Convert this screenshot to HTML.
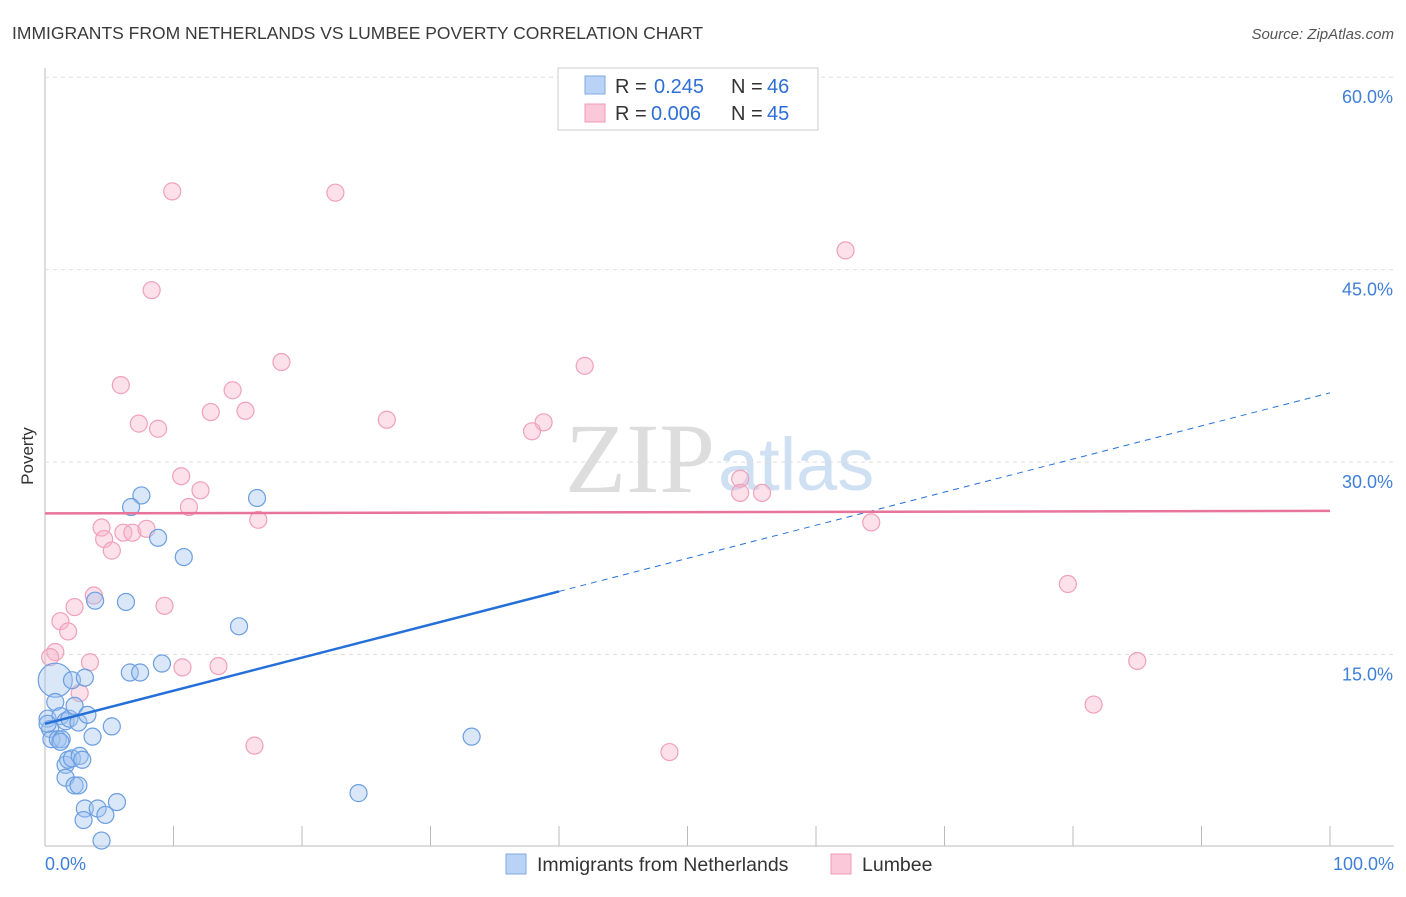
<!DOCTYPE html>
<html><head><meta charset="utf-8"><style>
body{margin:0;background:#fff;font-family:"Liberation Sans",sans-serif;}
</style></head><body>
<svg width="1406" height="892" xmlns="http://www.w3.org/2000/svg" id="svg">
<text x="12" y="39" font-size="17.5" fill="#3a3a3a">IMMIGRANTS FROM NETHERLANDS VS LUMBEE POVERTY CORRELATION CHART</text>
<text x="1394" y="39" font-size="15" fill="#555" font-style="italic" text-anchor="end">Source: ZipAtlas.com</text>
<text x="33" y="456" font-size="17" fill="#333" transform="rotate(-90 33 456)" text-anchor="middle">Poverty</text>
<text x="715" y="492" font-size="100" fill="#ddd" text-anchor="end" font-family="Liberation Serif,serif">ZIP</text>
<text x="718" y="490" font-size="74" fill="#cfe0f3">atlas</text>
<g id="grid"></g><g id="marks"></g>
<g>
<rect x="558" y="68" width="260" height="62" fill="#fff" stroke="#ccc"/>
<rect x="585" y="76" width="20" height="18" fill="#b8d3f5" stroke="#7fa8e0"/>
<rect x="585" y="104" width="20" height="18" fill="#fac8d8" stroke="#f09ab5"/>
<text x="615" y="93" font-size="20" fill="#333">R =</text>
<text x="654" y="93" font-size="20" fill="#2e6fd6">0.245</text>
<text x="731" y="93" font-size="20" fill="#333">N =</text>
<text x="767" y="93" font-size="20" fill="#2e6fd6">46</text>
<text x="615" y="120" font-size="20" fill="#333">R =</text>
<text x="651" y="120" font-size="20" fill="#2e6fd6">0.006</text>
<text x="731" y="120" font-size="20" fill="#333">N =</text>
<text x="767" y="120" font-size="20" fill="#2e6fd6">45</text>
</g>
<g>
<rect x="506" y="854" width="20" height="20" fill="#b8d3f5" stroke="#7fa8e0"/>
<text x="537" y="871" font-size="19.5" fill="#333">Immigrants from Netherlands</text>
<rect x="831" y="854" width="20" height="20" fill="#fac8d8" stroke="#f09ab5"/>
<text x="862" y="871" font-size="19.5" fill="#333">Lumbee</text>
</g>
</svg>
<script>
const yTicks=[15,30,45,60];
const blueX=[0.8,0.2,0.8,0.4,0.5,1.0,1.3,1.2,1.6,1.9,2.3,2.1,3.1,2.6,3.3,3.7,5.2,1.6,1.8,2.1,2.7,1.6,2.3,2.6,3.1,4.1,4.7,5.6,3.0,4.4,3.9,6.3,7.5,6.7,8.8,10.8,6.6,7.4,9.1,15.1,16.5,24.4,33.2,1.2,0.2,2.9];
const blueY=[13.0,10.0,11.3,9.2,8.4,8.4,8.4,10.2,9.8,10.0,11.0,13.0,13.2,9.7,10.3,8.6,9.4,6.4,6.8,6.9,7.1,5.4,4.8,4.8,3.0,3.0,2.5,3.5,2.1,0.5,19.2,19.1,27.4,26.5,24.1,22.6,13.6,13.6,14.3,17.2,27.2,4.2,8.6,8.2,9.6,6.8];
const pinkX=[9.9,22.6,62.3,8.3,18.4,42.0,5.9,14.6,12.9,15.6,26.6,7.3,8.8,38.8,37.9,10.6,12.1,54.1,54.1,55.8,11.2,16.6,64.3,4.4,4.6,6.1,6.8,7.9,5.2,3.8,2.3,1.2,1.8,9.3,0.8,0.4,3.5,10.7,13.5,2.7,79.6,85.0,81.6,16.3,48.6];
const pinkY=[51.1,51.0,46.5,43.4,37.8,37.5,36.0,35.6,33.9,34.0,33.3,33.0,32.6,33.1,32.4,28.9,27.8,28.7,27.6,27.6,26.5,25.5,25.3,24.9,24.0,24.5,24.5,24.8,23.1,19.6,18.7,17.6,16.8,18.8,15.2,14.8,14.4,14.0,14.1,12.0,20.5,14.5,11.1,7.9,7.4];
const blueTrend=[9.6,35.4], pinkTrend=[26.0,26.2];
const X=v=>45+v*12.85, Y=v=>847-v*12.83;
const NS="http://www.w3.org/2000/svg";
const grid=document.getElementById('grid'), marks=document.getElementById('marks');
function mk(tag,attrs,parent){const e=document.createElementNS(NS,tag);for(const k in attrs)e.setAttribute(k,attrs[k]);parent.appendChild(e);return e;}
mk('line',{x1:45,y1:68,x2:45,y2:846,stroke:'#bbb'},grid);
mk('line',{x1:45,y1:846,x2:1394,y2:846,stroke:'#bbb'},grid);
yTicks.forEach(t=>{
 const l=mk('line',{x1:45,y1:Y(t),x2:1394,y2:Y(t),stroke:'#ddd','stroke-dasharray':'4,4'},grid);
 
 
 const tx=mk('text',{x:1393,y:Y(t)+26,'font-size':18,fill:'#3f7fd8','text-anchor':'end'},grid);
 tx.textContent=t.toFixed(1)+'%';
 
 
});
for(let i=1;i<=10;i++){mk('line',{x1:X(i*10),y1:826,x2:X(i*10),y2:846,stroke:'#bbb'},grid);}
[['0.0%',45,'start'],['100.0%',1394,'end']].forEach(a=>{const t=mk('text',{x:a[1],y:870,'font-size':18,fill:'#3f7fd8','text-anchor':a[2]},grid);t.textContent=a[0];
 
 });
pinkX.forEach((v,i)=>{const c=mk('circle',{cx:X(v),cy:Y(pinkY[i]),r:8.5,fill:'rgba(248,180,202,0.4)',stroke:'#f0a0bb','stroke-width':1.2},marks);
 
 });
blueX.forEach((v,i)=>{const c=mk('circle',{cx:X(v),cy:Y(blueY[i]),r:i==0?17:8.5,fill:'rgba(160,196,240,0.4)',stroke:'#6b9ee0','stroke-width':1.2},marks);
 
 });
const bAt=v=>blueTrend[0]+(blueTrend[1]-blueTrend[0])*v/100;
let l1=mk('line',{x1:X(0),y1:Y(bAt(0)),x2:X(40),y2:Y(bAt(40)),stroke:'#2470d8','stroke-width':2.5},marks);


let l2=mk('line',{x1:X(40),y1:Y(bAt(40)),x2:X(100),y2:Y(bAt(100)),stroke:'#2470d8','stroke-width':1,'stroke-dasharray':'6,5'},marks);


let l3=mk('line',{x1:X(0),y1:Y(pinkTrend[0]),x2:X(100),y2:Y(pinkTrend[1]),stroke:'#e8749a','stroke-width':2.5},marks);


</script>
</body></html>
